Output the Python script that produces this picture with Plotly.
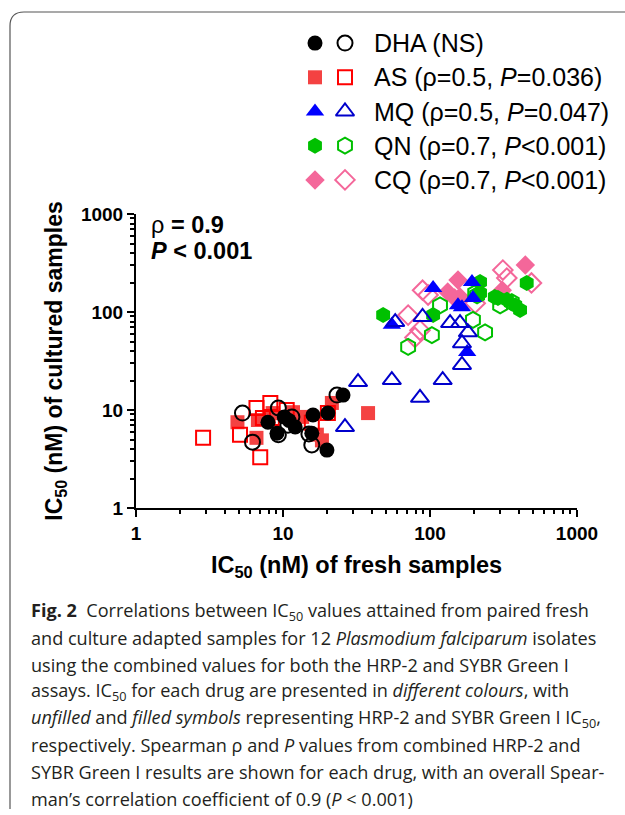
import plotly.graph_objects as go

W, H = 625, 815

# ---------------- data (IC50, nM) ----------------
# filled = SYBR Green I, open = HRP-2
dha_fill_fresh = [25.6, 16.0, 20.2, 12.1, 9.1, 15.7, 19.9, 7.9, 11.0, 10.2]
dha_fill_cult  = [14.2, 8.9, 9.3, 6.7, 5.8, 5.8, 3.9, 7.5, 7.8, 8.5]
dha_open_fresh = [23.3, 5.3, 9.3, 11.5, 6.2, 9.3, 15.7, 10.8, 15.0]
dha_open_cult  = [14.2, 9.3, 10.5, 8.5, 4.7, 5.6, 4.4, 7.0, 5.7]

as_fill_fresh = [37.9, 21.5, 4.9, 6.75, 11.7, 13.5, 17.0, 18.4, 6.6, 8.5, 8.0]
as_fill_cult  = [9.3, 11.8, 7.5, 7.9, 9.5, 8.5, 5.6, 4.9, 5.2, 9.3, 8.0]
as_open_fresh = [2.86, 7.0, 5.1, 6.6, 8.2, 7.3, 10.6, 20.2, 15.7, 8.4]
as_open_cult  = [5.2, 3.3, 5.6, 10.5, 11.8, 8.3, 10.0, 9.3, 7.4, 8.3]

mq_fill_fresh = [55, 105, 193, 179, 165, 196, 155]
mq_fill_cult  = [74, 176, 202, 39, 112, 139, 117]
mq_open_fresh = [32.4, 55, 85.5, 122, 165, 165, 181, 137, 160, 89, 58, 26.4]
mq_open_cult  = [19.3, 20.2, 13.3, 20.2, 28.8, 48, 62, 77, 77, 89, 79, 6.7]

qn_fill_fresh = [48, 105, 219, 290, 334, 410, 455, 380, 276, 219]
qn_fill_cult  = [93, 93, 202, 139, 133, 105, 198, 117, 142, 156]
qn_open_fresh = [71, 103, 237, 196, 117, 209, 300, 360, 203]
qn_open_cult  = [44, 58, 62, 83, 117, 148, 117, 126, 156]

cq_fill_fresh = [445, 155, 132, 147, 160, 310]
cq_fill_cult  = [302, 212, 160, 139, 142, 167]
cq_open_fresh = [313, 333, 490, 89, 97, 71, 85.5, 79, 203]
cq_open_cult  = [268, 222, 198, 167, 149, 93, 65, 55, 123]

legend_labels = [
    "DHA (NS)",
    "AS (ρ=0.5, <i>P</i>=0.036)",
    "MQ (ρ=0.5, <i>P</i>=0.047)",
    "QN (ρ=0.7, <i>P</i><0.001)",
    "CQ (ρ=0.7, <i>P</i><0.001)",
]
legend_rows = [0, 1, 2, 3, 4]
legend_cols = [0, 1]

x_ticks = [1, 10, 100, 1000]
y_ticks = [1, 10, 100, 1000]

caption_lines = [
    "<b>Fig. 2</b>  Correlations between IC<sub>50</sub> values attained from paired fresh",
    "and culture adapted samples for 12 <i>Plasmodium falciparum</i> isolates",
    "using the combined values for both the HRP-2 and SYBR Green I",
    "assays. IC<sub>50</sub> for each drug are presented in <i>different colours</i>, with",
    "<i>unfilled</i> and <i>filled symbols</i> representing HRP-2 and SYBR Green I IC<sub>50</sub>,",
    "respectively. Spearman ρ and <i>P</i> values from combined HRP-2 and",
    "SYBR Green I results are shown for each drug, with an overall Spear-",
    "man’s correlation coefficient of 0.9 (<i>P</i> < 0.001)",
]

# ---------------- styles ----------------
drugs = [
    # name, fill x, fill y, open x, open y, symbol, fill color, open color, size
    ("AS", as_fill_fresh, as_fill_cult, as_open_fresh, as_open_cult, "square", "#f44242", "#ff0000", 14),
    ("DHA", dha_fill_fresh, dha_fill_cult, dha_open_fresh, dha_open_cult, "circle", "#000000", "#000000", 15),
    ("CQ", cq_fill_fresh, cq_fill_cult, cq_open_fresh, cq_open_cult, "diamond", "#f4679a", "#f4679a", 15),
    ("QN", qn_fill_fresh, qn_fill_cult, qn_open_fresh, qn_open_cult, "hexagon", "#00c000", "#00c000", 16),
    ("MQ", mq_fill_fresh, mq_fill_cult, mq_open_fresh, mq_open_cult, "triangle-up", "#0000ff", "#0000cc", 16),
]
legend_order = ["DHA", "AS", "MQ", "QN", "CQ"]

fig = go.Figure()
for name, fx_, fy_, ox, oy, sym, fc, oc, sz in drugs:
    fig.add_trace(go.Scatter(x=fx_, y=fy_, mode="markers", showlegend=False,
                             marker=dict(symbol=sym, size=sz, color=fc, line=dict(width=0))))
    fig.add_trace(go.Scatter(x=ox, y=oy, mode="markers", showlegend=False,
                             marker=dict(symbol=sym + "-open", size=sz, color=oc, line=dict(width=2))))

# legend markers on a helper axis
style = {d[0]: d for d in drugs}
for r, name in zip(legend_rows, legend_order):
    _, _, _, _, _, sym, fc, oc, sz = style[name]
    fig.add_trace(go.Scatter(x=[legend_cols[0]], y=[r], xaxis="x2", yaxis="y2", mode="markers",
                             showlegend=False, marker=dict(symbol=sym, size=sz, color=fc, line=dict(width=0))))
    fig.add_trace(go.Scatter(x=[legend_cols[1]], y=[r], xaxis="x2", yaxis="y2", mode="markers",
                             showlegend=False, marker=dict(symbol=sym + "-open", size=sz, color=oc, line=dict(width=2))))
    fig.add_annotation(x=372 / W, xref="paper", y=r, yref="y2", text=legend_labels[r],
                       showarrow=False, xanchor="left", yanchor="middle",
                       font=dict(family="Liberation Sans", size=25, color="black"))

px0, px1 = 136, 577
py_top, py_bot = 214, 508

axis_common = dict(type="log", range=[0, 3], showgrid=False, zeroline=False, automargin=False,
                   showline=True, linewidth=2, linecolor="black",
                   ticks="outside", ticklen=7, tickwidth=2, tickcolor="black",
                   tickfont=dict(family="Liberation Sans", size=19, color="black", weight="bold"),
                   minor=dict(ticks="outside", ticklen=4, tickwidth=1.5, tickcolor="black",
                              dtick="D1", showgrid=False))

fig.update_layout(
    width=W, height=H, autosize=False,
    margin=dict(l=0, r=0, t=0, b=0, autoexpand=False),
    paper_bgcolor="white", plot_bgcolor="rgba(0,0,0,0)",
    xaxis=dict(domain=[px0 / W, px1 / W], anchor="y",
               tickvals=x_ticks, ticktext=[str(v) for v in x_ticks],
               title=dict(text="<b>IC<sub>50</sub> (nM) of fresh samples</b>", standoff=14,
                          font=dict(family="Liberation Sans", size=23.5, color="black")),
               **axis_common),
    yaxis=dict(domain=[1 - py_bot / H, 1 - py_top / H], anchor="x",
               tickvals=y_ticks, ticktext=[str(v) for v in y_ticks],
               title=dict(text="<b>IC<sub>50</sub> (nM) of cultured samples</b>", standoff=12,
                          font=dict(family="Liberation Sans", size=23, color="black")),
               **axis_common),
    xaxis2=dict(domain=[300 / W, 360 / W], range=[-0.5, 1.5], visible=False, anchor="y2",
                automargin=False),
    yaxis2=dict(domain=[1 - 197 / H, 1 - 26 / H], range=[4.5, -0.5], visible=False, anchor="x2",
                automargin=False),
)

# correlation text
fig.add_annotation(x=149 / W, y=1 - 225 / H, xref="paper", yref="paper", showarrow=False,
                   xanchor="left", yanchor="middle", text="ρ <b>= 0.9</b>",
                   font=dict(family="Liberation Sans", size=23.5, color="black"))
fig.add_annotation(x=149 / W, y=1 - 251 / H, xref="paper", yref="paper", showarrow=False,
                   xanchor="left", yanchor="middle", text="<b><i>P</i> < 0.001</b>",
                   font=dict(family="Liberation Sans", size=23.5, color="black"))

# caption
for i, line in enumerate(caption_lines):
    fig.add_annotation(x=29 / W, y=1 - (611 + i * 26.8) / H, xref="paper", yref="paper",
                       showarrow=False, xanchor="left", yanchor="middle", text=line,
                       font=dict(family="Open Sans", size=18.1, color="#231f20"))

# frame (rounded top-left corner)
def fx(p):
    return p / W

def fy(p):
    return 1 - p / H

path = (f"M {fx(10)},{fy(809)} L {fx(10)},{fy(26)} "
        f"Q {fx(10)},{fy(12)} {fx(24)},{fy(12)} L {fx(625)},{fy(12)}")
fig.add_shape(type="path", path=path, xref="paper", yref="paper",
              line=dict(color="#555555", width=1.2))

fig.write_html("out.html", config={"displayModeBar": False},
               post_script="document.body.style.margin='0';document.body.style.overflow='hidden';")
